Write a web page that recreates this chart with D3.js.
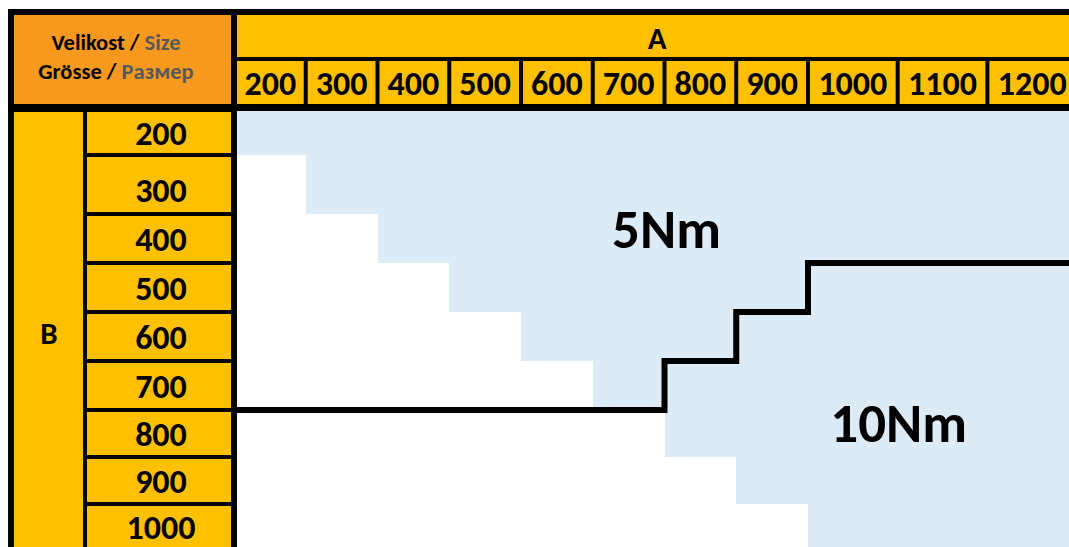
<!DOCTYPE html>
<html>
<head>
<meta charset="utf-8">
<script src="https://cdn.jsdelivr.net/npm/d3@7"></script>
<style>
  html, body { margin: 0; padding: 0; background: #fff; }
  svg { display: block; }
  text { font-family: Carlito, Lato, "Open Sans", sans-serif; font-weight: 700; }
</style>
</head>
<body>
<svg id="chart" width="1069" height="547"></svg>
<script>
// ---------------- DATA ----------------
const colLabels = ["200","300","400","500","600","700","800","900","1000","1100","1200"]; // A
const rowLabels = ["200","300","400","500","600","700","800","900","1000"];             // B
// Largest B value that still belongs to the 5Nm zone, for each A column
const max5NmB = [700, 700, 700, 700, 700, 700, 600, 500, 400, 400, 400];
const zoneLabels = ["5Nm", "10Nm"];
const axisTitles = { a: "A", b: "B" };
const headerLine1 = ["Velikost / ", "Size"];
const headerLine2 = ["Grösse / ", "Размер"];

// ---------------- LAYOUT ----------------
const COLORS = { orange: "#F7991F", yellow: "#FFC000", blue: "#DDEBF7", black: "#000", grey: "#595959" };
const svg = d3.select("#chart");
const NUM_FS = 34, TITLE_FS = 31, ZONE_FS = 55, HDR_FS = 22.5;

// column widths: 4-digit headers get wider columns
const colUnits = colLabels.map(l => l.length === 4 ? 1.25 : 1);
const colCum = [0]; colUnits.forEach(u => colCum.push(colCum[colCum.length - 1] + u));
const xLine = d3.scaleLinear().domain([0, colCum[colCum.length - 1]]).range([234, 234 + 71.75 * colCum[colCum.length - 1]]);
const xEdge = i => xLine(colCum[i]);

// row heights (relative), the 300 row is taller; last row is cut by the picture edge
const rowUnits = [47, 59, 49, 49, 49, 49, 47, 47, 45];
const rowCum = [0]; rowUnits.forEach(u => rowCum.push(rowCum[rowCum.length - 1] + u));
const yLine = d3.scaleLinear().domain([0, rowCum[rowCum.length - 1]]).range([108, 108 + rowCum[rowCum.length - 1]]);
const yEdge = i => yLine(rowCum[i]);
const rowIndex = d3.scaleOrdinal().domain(rowLabels).range(d3.range(rowLabels.length));

const right = xEdge(colLabels.length), bottom = yEdge(rowLabels.length);

// ---------------- BLACK FRAME (headers) ----------------
svg.append("rect").attr("x", 8).attr("y", 9).attr("width", right - 8 + 10).attr("height", 111 - 9).attr("fill", COLORS.black);
svg.append("rect").attr("x", 8).attr("y", 9).attr("width", 237 - 8).attr("height", bottom - 9 + 20).attr("fill", COLORS.black);

// Top-left header
svg.append("rect").attr("x", 14).attr("y", 15).attr("width", 231 - 14).attr("height", 104 - 15).attr("fill", COLORS.orange);
const hdr = svg.append("g").attr("font-size", HDR_FS).attr("text-anchor", "middle");
[[headerLine1, 50], [headerLine2, 78.5]].forEach(([parts, y]) => {
  const t = hdr.append("text").attr("x", 116).attr("y", y);
  t.append("tspan").attr("fill", COLORS.black).text(parts[0]);
  t.append("tspan").attr("fill", COLORS.grey).text(parts[1]);
});

// A title band
svg.append("rect").attr("x", 237).attr("y", 15).attr("width", right - 237 + 10).attr("height", 57 - 15).attr("fill", COLORS.yellow);
svg.append("text").attr("x", (237 + right) / 2).attr("y", 37.5 + 0.36 * TITLE_FS).attr("font-size", TITLE_FS)
  .attr("text-anchor", "middle").attr("fill", COLORS.black).text(axisTitles.a);

// Column header cells
const colG = svg.append("g");
colLabels.forEach((lab, i) => {
  const x0 = i === 0 ? 237 : xEdge(i) + 2;
  const x1 = xEdge(i + 1) - 2;
  colG.append("rect").attr("x", x0).attr("y", 61).attr("width", x1 - x0).attr("height", 104 - 61).attr("fill", COLORS.yellow);
  colG.append("text").attr("x", (x0 + x1) / 2).attr("y", 82.5 + 0.36 * NUM_FS).attr("font-size", NUM_FS)
    .attr("text-anchor", "middle").attr("fill", COLORS.black).text(lab);
});

// B title cell
svg.append("rect").attr("x", 14).attr("y", 112).attr("width", 83 - 14).attr("height", bottom - 112 + 20).attr("fill", COLORS.yellow);
svg.append("text").attr("x", 49).attr("y", 333 + 0.36 * TITLE_FS).attr("font-size", TITLE_FS)
  .attr("text-anchor", "middle").attr("fill", COLORS.black).text(axisTitles.b);

// Row header cells
const rowG = svg.append("g");
rowLabels.forEach((lab, i) => {
  const y0 = i === 0 ? 112 : yEdge(i) + 2;
  const last = i === rowLabels.length - 1;
  const y1 = yEdge(i + 1) - 2;
  const h = y1 - y0;
  const cy = (y0 + y1) / 2 + Math.max(0, (h - 45) / 2);
  rowG.append("rect").attr("x", 87).attr("y", y0).attr("width", 231 - 87).attr("height", last ? h + 20 : h).attr("fill", COLORS.yellow);
  rowG.append("text").attr("x", 161).attr("y", cy + 0.36 * NUM_FS).attr("font-size", NUM_FS)
    .attr("text-anchor", "middle").attr("fill", COLORS.black).text(lab);
});

// ---------------- BODY ----------------
const cells = [];
rowLabels.forEach((rb, i) => colLabels.forEach((ca, j) => { if (+ca >= +rb) cells.push({ i, j }); }));
svg.append("g").attr("shape-rendering", "crispEdges").selectAll("rect").data(cells).join("rect")
  .attr("x", d => Math.max(237, xEdge(d.j)))
  .attr("y", d => Math.max(111, yEdge(d.i)))
  .attr("width", d => xEdge(d.j + 1) - Math.max(237, xEdge(d.j)))
  .attr("height", d => yEdge(d.i + 1) - Math.max(111, yEdge(d.i)) + (d.i === rowLabels.length - 1 ? 20 : 0))
  .attr("fill", COLORS.blue);

// step boundary between 5Nm and 10Nm
const pts = [];
max5NmB.forEach((b, j) => {
  const y = yEdge(rowIndex(String(b)) + 1);
  pts.push([xEdge(j), y], [xEdge(j + 1), y]);
});
pts[pts.length - 1][0] += 10;
svg.append("path").attr("d", d3.line()(pts)).attr("fill", "none")
  .attr("stroke", COLORS.black).attr("stroke-width", 6).attr("stroke-linejoin", "miter");

// zone labels
svg.append("text").attr("x", xEdge(6) + 2).attr("y", yEdge(2) + 14 + 0.36 * ZONE_FS).attr("font-size", ZONE_FS)
  .attr("text-anchor", "middle").attr("fill", COLORS.black).text(zoneLabels[0]);
svg.append("text").attr("x", xEdge(9) + 1).attr("y", yEdge(6) + 12 + 0.36 * ZONE_FS).attr("font-size", ZONE_FS)
  .attr("text-anchor", "middle").attr("fill", COLORS.black).text(zoneLabels[1]);
</script>
</body>
</html>
